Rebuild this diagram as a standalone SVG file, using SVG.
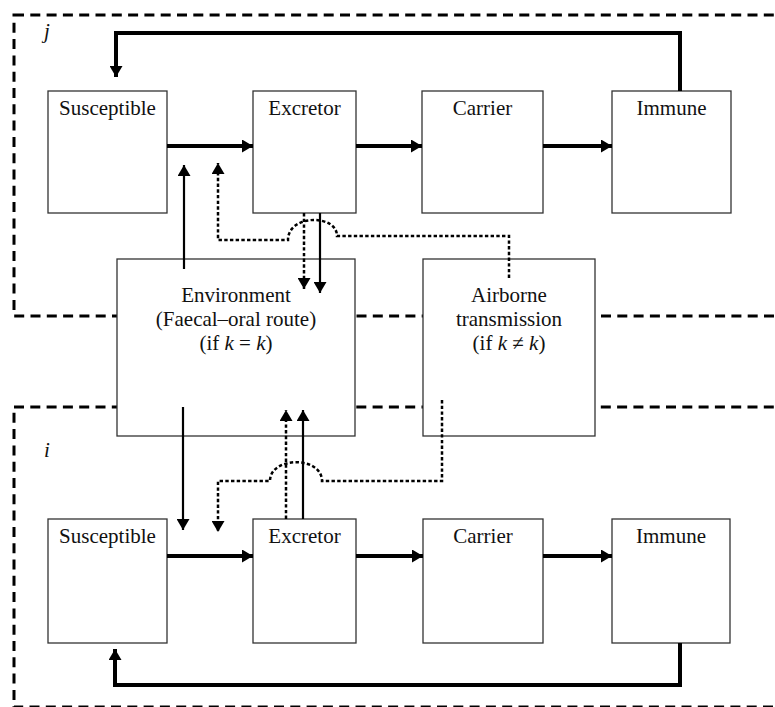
<svg xmlns="http://www.w3.org/2000/svg" width="775" height="707" viewBox="0 0 775 707">
<style>
.region{fill:none;stroke:#000;stroke-width:3;stroke-dasharray:10 6.3}
.box{fill:#fff;stroke:#333;stroke-width:1.3}
.lbl{font-family:"Liberation Serif","Times New Roman",serif;font-size:21px;fill:#111;text-anchor:middle}
.it{font-style:italic}
.thick{fill:none;stroke:#000;stroke-width:4}
.thin{fill:none;stroke:#000;stroke-width:2.2}
.dot{fill:none;stroke:#000;stroke-width:2.5;stroke-dasharray:3.4 2.3}
</style>
<defs>
<marker id="ah" markerUnits="userSpaceOnUse" markerWidth="13" markerHeight="13" refX="11" refY="6.5" orient="auto">
<path d="M0,0 L11,6.5 L0,13 z" fill="#000"/>
</marker>
</defs>
<g id="regions">
<rect class="region" x="14" y="15" width="800" height="301"/>
<text class="lbl it" x="47" y="38" text-anchor="middle">j</text>
<rect class="region" x="14" y="407" width="800" height="300" stroke-opacity="1"/>
<text class="lbl it" x="47" y="457" text-anchor="middle">i</text>
</g>
<g id="j-susceptible"><rect class="box" x="48" y="91" width="119" height="122"/><text class="lbl" x="107.5" y="115">Susceptible</text></g>
<g id="j-excretor"><rect class="box" x="253" y="91" width="103" height="122"/><text class="lbl" x="304.5" y="115">Excretor</text></g>
<g id="j-carrier"><rect class="box" x="422" y="91" width="121" height="122"/><text class="lbl" x="482.5" y="115">Carrier</text></g>
<g id="j-immune"><rect class="box" x="612" y="91" width="119" height="122"/><text class="lbl" x="671.5" y="115">Immune</text></g>
<g id="environment"><rect class="box" x="117" y="259" width="238" height="177"/>
<text class="lbl" x="236" y="302">Environment</text>
<text class="lbl" x="236" y="326">(Faecal–oral route)</text>
<text class="lbl" x="236" y="350">(if <tspan class="it">k</tspan> = <tspan class="it">k</tspan>)</text></g>
<g id="airborne"><rect class="box" x="423" y="259" width="172" height="177"/>
<text class="lbl" x="509" y="302">Airborne</text>
<text class="lbl" x="509" y="326">transmission</text>
<text class="lbl" x="509" y="350">(if <tspan class="it">k</tspan> ≠ <tspan class="it">k</tspan>)</text></g>
<g id="i-susceptible"><rect class="box" x="48" y="519" width="119" height="124"/><text class="lbl" x="107.5" y="543">Susceptible</text></g>
<g id="i-excretor"><rect class="box" x="253" y="519" width="103" height="124"/><text class="lbl" x="304.5" y="543">Excretor</text></g>
<g id="i-carrier"><rect class="box" x="423" y="519" width="120" height="124"/><text class="lbl" x="483" y="543">Carrier</text></g>
<g id="i-immune"><rect class="box" x="612" y="519" width="118" height="124"/><text class="lbl" x="671" y="543">Immune</text></g>
<g id="connectors">
<path class="thick" d="M680,91 V33 H116 V77" marker-end="url(#ah)"/>
<path class="thick" d="M167,146 H253" marker-end="url(#ah)"/>
<path class="thick" d="M356,146 H422" marker-end="url(#ah)"/>
<path class="thick" d="M543,146 H612" marker-end="url(#ah)"/>
<path class="thin" d="M184,269 V165" marker-end="url(#ah)"/>
<path class="dot" d="M509,278 V236 H337 C337,214 288,214 288,240 H218 V163" marker-end="url(#ah)"/>
<path class="dot" d="M304,213 V289" marker-end="url(#ah)"/>
<path class="thin" d="M320,213 V293" marker-end="url(#ah)"/>
<path class="thin" d="M183,407 V530" marker-end="url(#ah)"/>
<path class="dot" d="M442,400 V481 H322 C322,456 270,456 270,481 H218 V532" marker-end="url(#ah)"/>
<path class="dot" d="M286,519 V410" marker-end="url(#ah)"/>
<path class="thin" d="M303,519 V410" marker-end="url(#ah)"/>
<path class="thick" d="M167,556 H253" marker-end="url(#ah)"/>
<path class="thick" d="M356,556 H423" marker-end="url(#ah)"/>
<path class="thick" d="M543,556 H612" marker-end="url(#ah)"/>
<path class="thick" d="M680,643 V685 H115 V649" marker-end="url(#ah)"/>
</g>
</svg>
